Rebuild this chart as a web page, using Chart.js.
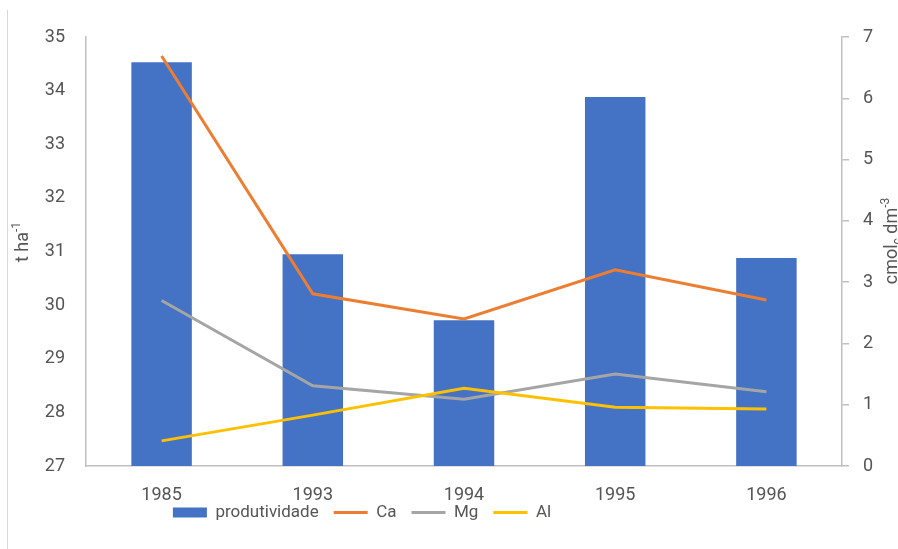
<!DOCTYPE html>
<html>
<head>
<meta charset="utf-8">
<script src="https://cdn.jsdelivr.net/npm/chart.js@4.4.1/dist/chart.umd.min.js"></script>
<style>
  html, body { margin: 0; padding: 0; background: #fff; }
  #wrap { position: relative; width: 898px; height: 549px; }
  #edge { position: absolute; left: 7px; top: 10px; width: 1px; height: 539px; background: #d9d9d9; }
</style>
</head>
<body>
<div id="wrap">
  <div id="edge"></div>
  <canvas id="chart"></canvas>
</div>
<script>
// Data
const years = ['1985', '1993', '1994', '1995', '1996'];
const produtividade = [34.53, 30.95, 29.72, 33.88, 30.88];  // t ha-1
const ca = [6.69, 2.81, 2.40, 3.20, 2.71];                  // cmolc dm-3
const mg = [2.70, 1.31, 1.09, 1.50, 1.21];
const al = [0.41, 0.83, 1.27, 0.96, 0.93];

const FONT = "Roboto, 'Liberation Sans', sans-serif";
const TEXT = '#555555';
const AXIS = '#bfbfbf';

// Axis titles with super/subscripts, drawn rotated
function drawRich(ctx, parts, cx, cy) {
    ctx.save();
    ctx.translate(cx, cy);
    ctx.rotate(-Math.PI / 2);
    ctx.fillStyle = TEXT;
    ctx.textBaseline = 'alphabetic';
    let total = 0;
    parts.forEach(p => {
        ctx.font = `${p.size}px ${FONT}`;
        total += ctx.measureText(p.t).width;
    });
    let x = -total / 2;
    parts.forEach(p => {
        ctx.font = `${p.size}px ${FONT}`;
        ctx.fillText(p.t, x, 6 + p.dy);
        x += ctx.measureText(p.t).width;
    });
    ctx.restore();
}

const axisTitles = {
    id: 'axisTitles',
    afterDraw(chart) {
        const ctx = chart.ctx;
        drawRich(ctx, [
            { t: 't ha', size: 18, dy: 0 },
            { t: '-1', size: 12, dy: -8 }
        ], 22, 242);
        drawRich(ctx, [
            { t: 'cmol', size: 18, dy: 0 },
            { t: 'c', size: 12, dy: 4 },
            { t: ' dm', size: 18, dy: 0 },
            { t: '-3', size: 12, dy: -8 }
        ], 891, 241);
    }
};

// Move the legend row up and left, where the reference has it
const legendShift = {
    id: 'legendShift',
    afterLayout(chart) {
        const lg = chart.legend;
        if (!lg) return;
        const h = lg.bottom - lg.top;
        lg.top = 489;
        lg.bottom = lg.top + h;
        lg.right = 2 * 362 - lg.left;
    }
};

new Chart(document.getElementById('chart'), {
    data: {
        labels: years,
        datasets: [
            {
                type: 'bar',
                label: 'produtividade',
                data: produtividade,
                backgroundColor: '#4472C4',
                borderWidth: 0,
                barPercentage: 0.4,
                categoryPercentage: 1,
                yAxisID: 'y',
                order: 10
            },
            {
                type: 'line',
                label: 'Ca',
                data: ca,
                borderColor: '#ED7D31',
                backgroundColor: '#ED7D31',
                borderWidth: 3,
                pointRadius: 0,
                yAxisID: 'y1',
                order: 3
            },
            {
                type: 'line',
                label: 'Mg',
                data: mg,
                borderColor: '#A5A5A5',
                backgroundColor: '#A5A5A5',
                borderWidth: 3,
                pointRadius: 0,
                yAxisID: 'y1',
                order: 2
            },
            {
                type: 'line',
                label: 'Al',
                data: al,
                borderColor: '#FFC000',
                backgroundColor: '#FFC000',
                borderWidth: 3,
                pointRadius: 0,
                yAxisID: 'y1',
                order: 1
            }
        ]
    },
    options: {
        responsive: true,
        maintainAspectRatio: false,
        animation: false,
        layout: { padding: { top: 37, bottom: 3, left: 0, right: 0 } },
        plugins: {
            tooltip: { enabled: false },
            legend: {
                position: 'bottom',
                labels: {
                    font: { family: FONT, size: 17 },
                    color: TEXT,
                    usePointStyle: true,
                    pointStyleWidth: 34,
                    boxHeight: 10,
                    padding: 15,
                    sort: (a, b) => a.datasetIndex - b.datasetIndex,
                    generateLabels(chart) {
                        return chart.data.datasets.map((ds, i) => ({
                            text: ds.label,
                            datasetIndex: i,
                            fillStyle: ds.type === 'bar' ? ds.backgroundColor : ds.borderColor,
                            strokeStyle: ds.type === 'bar' ? ds.backgroundColor : ds.borderColor,
                            lineWidth: ds.type === 'bar' ? 0 : 3,
                            pointStyle: ds.type === 'bar' ? 'rect' : 'line',
                            fontColor: TEXT,
                            hidden: false
                        }));
                    }
                }
            }
        },
        scales: {
            x: {
                grid: { display: false, drawTicks: false },
                border: { color: AXIS, width: 1.5 },
                ticks: { font: { family: FONT, size: 18 }, color: TEXT, padding: 19, maxRotation: 0 },
                afterFit(scale) { scale.height = 38; }
            },
            y: {
                position: 'left',
                min: 27,
                max: 35,
                ticks: { stepSize: 1, font: { family: FONT, size: 18 }, color: TEXT, padding: 21 },
                grid: { display: false, drawTicks: false },
                border: { color: AXIS, width: 1.5 },
                afterFit(scale) { scale.width = 86; }
            },
            y1: {
                position: 'right',
                min: 0,
                max: 7,
                ticks: { stepSize: 1, font: { family: FONT, size: 18 }, color: TEXT, padding: 14 },
                grid: { drawOnChartArea: false, drawTicks: true, tickLength: 7, color: AXIS, lineWidth: 1.5 },
                border: { color: AXIS, width: 1.5 },
                afterFit(scale) { scale.width = 56; }
            }
        }
    },
    plugins: [axisTitles, legendShift]
});
</script>
</body>
</html>
